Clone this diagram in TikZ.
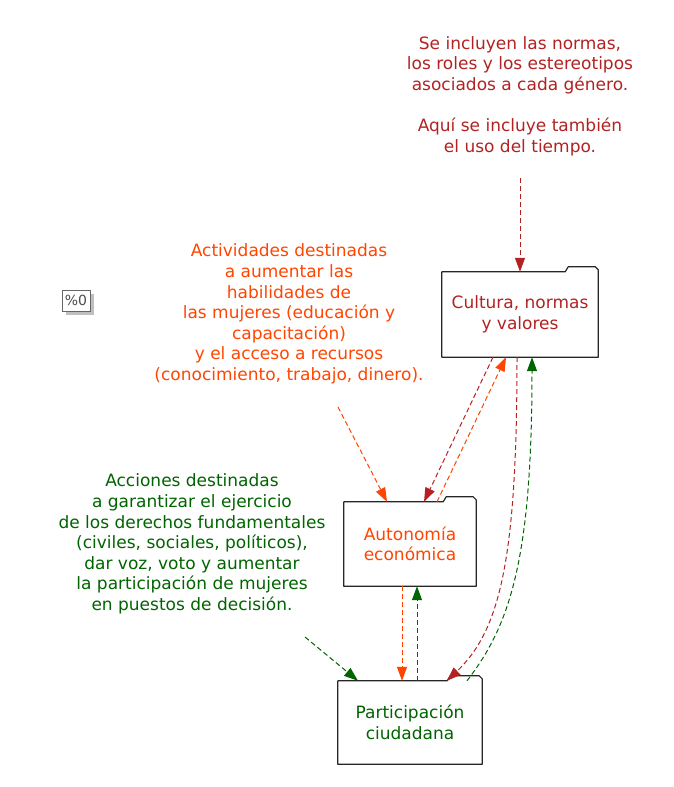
\documentclass[tikz,border=0pt]{standalone}
\usepackage{fontspec}
\setmainfont{DejaVu Sans}
\usetikzlibrary{arrows.meta,shadows}

\definecolor{ladrillo}{HTML}{B22222}
\definecolor{naranja}{HTML}{FF4500}
\definecolor{verde}{HTML}{006400}

\begin{document}
\begin{tikzpicture}
				[x=1pt,y=-1pt,
				texto/.style={font=\fontsize{17}{20.6}\selectfont,align=center,inner sep=0pt},
				carpeta/.style={texto,inner sep=0pt,minimum height=84pt},
				flecha/.style={line width=1pt,dash pattern=on 5pt off 3pt,-{Triangle[length=14pt,width=10pt]}}]
				\useasboundingbox (0,0) rectangle (673,787);
				% notas
				\node[texto,text=ladrillo] (nota1) at (520,96) {Se incluyen las normas,\\los roles y los estereotipos\\asociados a cada género.\\[20.6pt]Aquí se incluye también\\el uso del tiempo.};
				\node[texto,text=naranja] (nota2) at (289,314) {Actividades destinadas\\a aumentar las\\habilidades de\\las mujeres (educación y\\capacitación)\\y el acceso a recursos\\(conocimiento, trabajo, dinero).};
				\node[texto,text=verde] (nota3) at (192,544) {Acciones destinadas\\a garantizar el ejercicio\\de los derechos fundamentales\\(civiles, sociales, políticos),\\dar voz, voto y aumentar\\la participación de mujeres\\en puestos de decisión.};
				\node[draw=black!60,fill=white,line width=0.8pt,minimum width=28pt,minimum height=21pt,inner sep=0pt,
					text=black!70,font=\fontsize{14}{16}\selectfont,
					drop shadow={shadow xshift=4pt,shadow yshift=-4pt,fill=black!25,opacity=1}] (cero) at (76,300.5) {\%0};
				% carpetas
				\node[carpeta,text=ladrillo,minimum width=156pt,minimum height=85pt] (cult) at (520,314.5) {Cultura, normas\\y valores};
				\node[carpeta,text=naranja,minimum width=132pt] (auto) at (410,544) {Autonomía\\económica};
				\node[carpeta,text=verde,minimum width=144pt,minimum height=83pt] (part) at (410,722.5) {Participación\\ciudadana};
				\foreach \n/\w in {cult/33,auto/33,part/35}
					\draw[line width=1.2pt,black!85,line join=round] (\n.south west) -- (\n.north west)
						-- ([xshift=-\w pt]\n.north east) -- ++(3,-5) -- ++(\w-6,0) -- ++(3,3) -- (\n.south east) -- cycle;
				% flechas
				\draw[flecha,ladrillo] ([shift={(0,82)}]nota1.center) -- (cult.north);
				\draw[flecha,naranja] ([shift={(49,93)}]nota2.center) -- ([xshift=-23pt]auto.north);
				\draw[flecha,verde] ([shift={(113,93)}]nota3.center) -- ([xshift=-52pt]part.north);
				\draw[flecha,ladrillo] ([xshift=-27pt]cult.south) -- ([xshift=14pt]auto.north);
				\draw[flecha,naranja] ([xshift=27pt]auto.north) -- ([xshift=-14pt]cult.south);
				\draw[flecha,naranja] ([xshift=-8pt]auto.south) -- ([xshift=-8pt]part.north);
				\draw[flecha,verde] ([xshift=7pt]part.north) -- ([xshift=7pt]auto.south);
				\draw[flecha,ladrillo] ([xshift=-3pt]cult.south) .. controls (517,560) and (500,630) .. ([xshift=37pt]part.north);
				\draw[flecha,verde] ([xshift=57pt]part.north) .. controls (510,625) and (532,560) .. ([xshift=12pt]cult.south);
			\end{tikzpicture}
\end{document}
